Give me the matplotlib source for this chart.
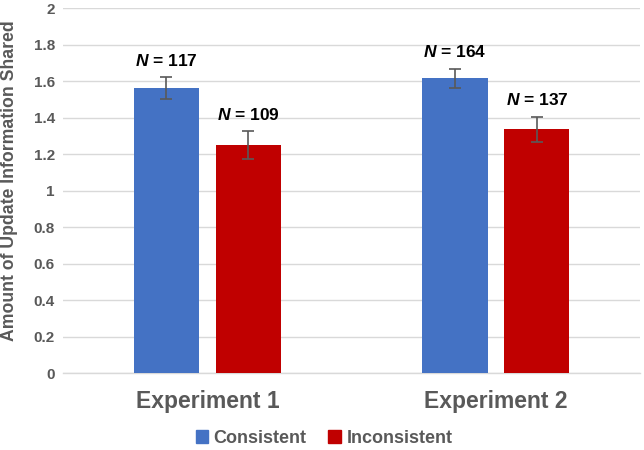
import matplotlib
matplotlib.use("Agg")
import matplotlib.pyplot as plt
import numpy as np
from matplotlib.patches import Patch

plt.rcParams['font.family'] = ['Liberation Sans', 'DejaVu Sans']
plt.rcParams['mathtext.fontset'] = 'custom'
plt.rcParams['mathtext.it'] = 'Liberation Sans:bold:italic'
plt.rcParams['mathtext.rm'] = 'Liberation Sans:bold'

categories = ["Experiment 1", "Experiment 2"]
series = ["Consistent", "Inconsistent"]
consistent = [1.563, 1.615]
consistent_err = [0.06, 0.053]
inconsistent = [1.248, 1.336]
inconsistent_err = [0.076, 0.069]
consistent_n = [117, 164]
inconsistent_n = [109, 137]
yticks = [0, 0.2, 0.4, 0.6, 0.8, 1, 1.2, 1.4, 1.6, 1.8, 2]
ytick_labels = ["0", "0.2", "0.4", "0.6", "0.8", "1", "1.2", "1.4", "1.6", "1.8", "2"]

colors = ["#4472C4", "#C00000"]
gray = "#595959"

fig = plt.figure(figsize=(6.44, 4.5), dpi=100)
ax = fig.add_axes([0.098, 0.171, 0.896, 0.811])

x = np.arange(len(categories))
w = 0.226
off = 0.142
data = [(consistent, consistent_err, consistent_n), (inconsistent, inconsistent_err, inconsistent_n)]
for i, (vals, errs, ns) in enumerate(data):
    xs = x + (-off if i == 0 else off)
    ax.bar(xs, vals, w, color=colors[i], zorder=3, label=series[i])
    ax.errorbar(xs, vals, yerr=errs, fmt='none', ecolor='#595959', elinewidth=1.2,
                capsize=4, capthick=1.2, zorder=4)
    for xi, v, e, n in zip(xs, vals, errs, ns):
        ax.annotate(f"$N$ = {n}", (xi, v + e), xytext=(0, 6), textcoords='offset points',
                    ha='center', va='bottom', fontsize=12.5, fontweight='bold', color='black')

ax.set_xlim(-0.5, 1.5)
ax.set_ylim(0, 2)
ax.set_yticks(yticks)
ax.set_yticklabels(ytick_labels, fontsize=11, fontweight='bold', color=gray)
ax.set_xticks(x)
ax.set_xticklabels(categories, fontsize=16.5, fontweight='bold', color=gray)
ax.tick_params(axis='both', length=0)
ax.tick_params(axis='y', pad=6)
ax.tick_params(axis='x', pad=12)
ax.grid(axis='y', color='#D9D9D9', linewidth=1, zorder=0)
for s in ['top', 'right', 'left']:
    ax.spines[s].set_visible(False)
ax.spines['bottom'].set_color('#D9D9D9')
ax.spines['bottom'].set_linewidth(1)
ax.set_ylabel("Amount of Update Information Shared", fontsize=12.7, fontweight='bold',
              color=gray)
ax.yaxis.set_label_coords(-0.079, 0.527)

handles = [Patch(color=colors[0]), Patch(color=colors[1])]
fig.legend(handles, series, loc='center', bbox_to_anchor=(0.503, 0.026), ncol=2, frameon=False,
           prop={'size': 13, 'weight': 'bold'}, labelcolor=gray, handlelength=0.7,
           handleheight=0.7, handletextpad=0.3, columnspacing=1.2)

fig.savefig("out.png", dpi=100)
